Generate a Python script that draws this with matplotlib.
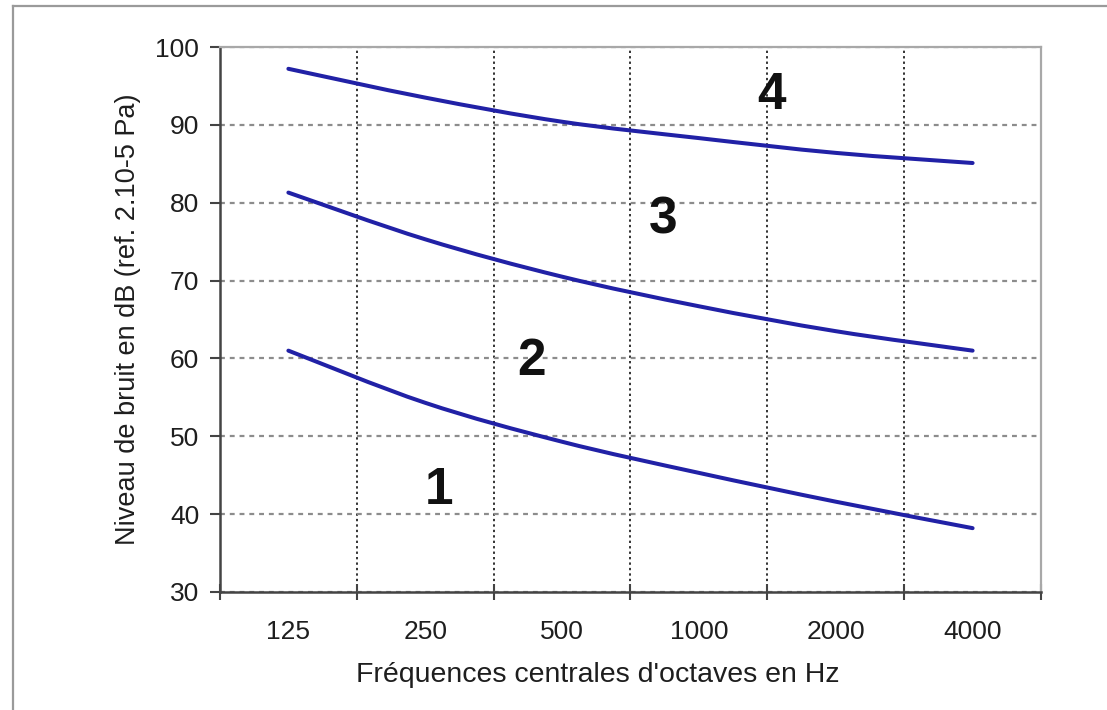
import numpy as np
import matplotlib
matplotlib.use("Agg")
import matplotlib.pyplot as plt
from matplotlib.path import Path
from matplotlib.patches import PathPatch
from matplotlib.lines import Line2D

# -------------------------------------------------------
# Noise level curves per octave band (NR-style curves 1..4)
# -------------------------------------------------------

freq_labels = ["125", "250", "500", "1000", "2000", "4000"]
curve_1 = [61.0, 54.3, 49.3, 45.3, 41.6, 38.2]
curve_2 = [81.3, 75.3, 70.5, 66.7, 63.5, 61.0]
curve_3 = [97.2, 93.5, 90.4, 88.3, 86.4, 85.1]
zone_labels = ["1", "2", "3", "4"]
zone_x = [1.6, 2.28, 3.24, 4.03]
zone_y = [43.1, 59.6, 77.8, 93.8]

plt.rcParams["font.family"] = ["Liberation Sans", "DejaVu Sans"]
plt.rcParams["text.color"] = "#1e1e1e"
plt.rcParams["axes.labelcolor"] = "#1e1e1e"
plt.rcParams["xtick.labelcolor"] = "#1e1e1e"
plt.rcParams["ytick.labelcolor"] = "#1e1e1e"

LINE_COLOR = "#2121a6"


def smooth_path(xs, ys):
    """Excel-like smoothed line: cubic Bezier through every point."""
    pts = np.column_stack([xs, ys])
    n = len(pts)
    verts = [pts[0]]
    codes = [Path.MOVETO]
    for i in range(n - 1):
        p_prev = pts[i - 1] if i > 0 else pts[i]
        p_next2 = pts[i + 2] if i + 2 < n else pts[i + 1]
        c1 = pts[i] + (pts[i + 1] - p_prev) / 6.0
        c2 = pts[i + 1] - (p_next2 - pts[i]) / 6.0
        verts += [c1, c2, pts[i + 1]]
        codes += [Path.CURVE4] * 3
    return Path(verts, codes)


fig = plt.figure(figsize=(11.07, 7.10), dpi=100)
ax = fig.add_axes([0.1987, 0.1662, 0.7417, 0.7676])

x = np.arange(len(freq_labels)) + 0.5
for curve in (curve_1, curve_2, curve_3):
    patch = PathPatch(smooth_path(x, curve), facecolor="none",
                      edgecolor=LINE_COLOR, linewidth=2.9, capstyle="round", zorder=3)
    ax.add_patch(patch)

for lab, lx, ly in zip(zone_labels, zone_x, zone_y):
    ax.text(lx, ly, lab, fontsize=37, fontweight="bold", ha="center", va="center",
            color="#111111", zorder=4)

ax.set_xlim(0, len(freq_labels))
ax.set_ylim(30, 100)

# category ticks between bands, labels at band centers
ax.set_xticks(np.arange(len(freq_labels) + 1))
ax.set_xticklabels([])
ax.set_xticks(x, minor=True)
ax.set_xticklabels(freq_labels, minor=True, fontsize=19)
ax.tick_params(axis="x", which="minor", length=0, pad=20)
ax.tick_params(axis="x", which="major", direction="inout", length=12, width=1.5, color="#444444")
ax.set_yticks(np.arange(30, 101, 10))
ax.tick_params(axis="y", direction="out", length=7, width=1.5, color="#444444", labelsize=19, pad=8)

ax.grid(axis="y", which="major", color="#8c8c8c", linestyle=(0, (2.2, 2.2)), linewidth=1.6)
ax.grid(axis="x", which="major", color="#333333", linestyle=(0, (1.2, 1.6)), linewidth=1.4)
ax.set_axisbelow(True)

for side in ("left", "bottom"):
    ax.spines[side].set_color("#444444")
    ax.spines[side].set_linewidth(1.8)
for side in ("top", "right"):
    ax.spines[side].set_color("#a8a8a8")
    ax.spines[side].set_linewidth(1.6)

ax.set_xlabel("Fréquences centrales d'octaves en Hz", fontsize=20.5)
ax.xaxis.set_label_coords(0.46, -0.129)
ax.set_ylabel("Niveau de bruit en dB (ref. 2.10-5 Pa)", fontsize=19.5, labelpad=10)

# outer frame (top and left edges of the pasted chart area)
fig.add_artist(Line2D([13 / 1107, 1.0], [1 - 6 / 710, 1 - 6 / 710], color="#9a9a9a", linewidth=1.6))
fig.add_artist(Line2D([13 / 1107, 13 / 1107], [0.0, 1 - 6 / 710], color="#9a9a9a", linewidth=1.6))

fig.savefig("out.png", dpi=100)
